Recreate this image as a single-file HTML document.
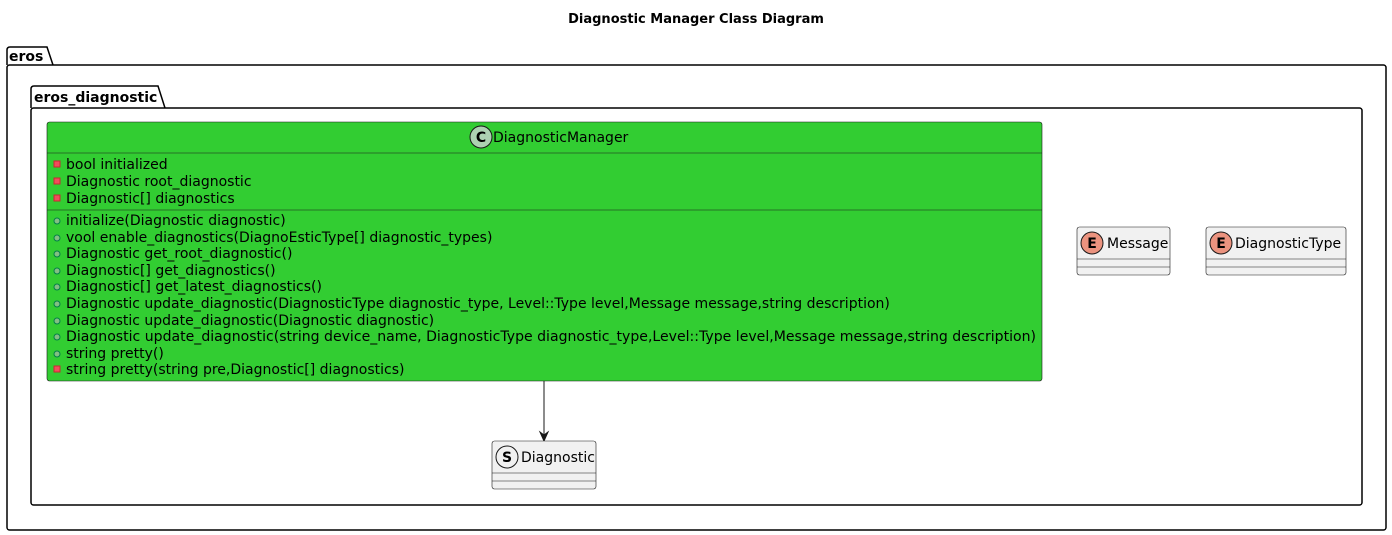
<!DOCTYPE html>
<html><head><meta charset="utf-8"><style>
html,body{margin:0;padding:0;background:#fff;}
svg{display:block;}
text{font-family:"DejaVu Sans","Liberation Sans",sans-serif;}
</style></head><body>
<svg width="1392" height="535" viewBox="0 0 1392 535" xmlns="http://www.w3.org/2000/svg">
<text x="696" y="23" text-anchor="middle" font-size="13" font-weight="bold">Diagnostic Manager Class Diagram</text>
<path d="M7,65 L7,50 Q7,47 10,47 L47,47 L53,65" fill="none" stroke="#000" stroke-width="1.5"/>
<rect x="7" y="65" width="1379" height="465" rx="2.5" fill="none" stroke="#000" stroke-width="1.5"/>
<text x="9" y="61" font-size="14" font-weight="bold">eros</text>
<path d="M31,108 L31,89 Q31,86 34,86 L158,86 L165,108" fill="none" stroke="#000" stroke-width="1.5"/>
<rect x="31" y="108" width="1331" height="397" rx="2.5" fill="none" stroke="#000" stroke-width="1.5"/>
<text x="34" y="102" font-size="14" font-weight="bold">eros_diagnostic</text>
<rect x="47" y="122" width="995" height="259" rx="2.5" fill="#32CD32" stroke="#181818" stroke-width="0.6"/>
<circle cx="481" cy="137" r="11" fill="#ADD1B2" stroke="#181818" stroke-width="1"/>
<text x="481" y="142" text-anchor="middle" font-size="14" font-weight="bold">C</text>
<text x="493" y="142" font-size="14">DiagnosticManager</text>
<line x1="47" y1="153" x2="1042" y2="153" stroke="#181818" stroke-width="0.6"/>
<g fill="#F24D5C" stroke="#C82930" stroke-width="1">
<rect x="54" y="161" width="6" height="6"/><rect x="54" y="178" width="6" height="6"/><rect x="54" y="195" width="6" height="6"/>
<rect x="54" y="366" width="6" height="6"/>
</g>
<g font-size="14">
<text x="66" y="169">bool initialized</text>
<text x="66" y="186">Diagnostic root_diagnostic</text>
<text x="66" y="203">Diagnostic[] diagnostics</text>
</g>
<line x1="47" y1="210" x2="1042" y2="210" stroke="#181818" stroke-width="0.6"/>
<g fill="#84BE84" stroke="#038048" stroke-width="1">
<circle cx="57" cy="221" r="3"/><circle cx="57" cy="238" r="3"/><circle cx="57" cy="254" r="3"/><circle cx="57" cy="271" r="3"/><circle cx="57" cy="287" r="3"/><circle cx="57" cy="304" r="3"/><circle cx="57" cy="321" r="3"/><circle cx="57" cy="337" r="3"/><circle cx="57" cy="354" r="3"/>
</g>
<g font-size="14">
<text x="66" y="225">initialize(Diagnostic diagnostic)</text>
<text x="66" y="242">vool enable_diagnostics(DiagnoEsticType[] diagnostic_types)</text>
<text x="66" y="258">Diagnostic get_root_diagnostic()</text>
<text x="66" y="275">Diagnostic[] get_diagnostics()</text>
<text x="66" y="291">Diagnostic[] get_latest_diagnostics()</text>
<text x="66" y="308">Diagnostic update_diagnostic(DiagnosticType diagnostic_type, Level::Type level,Message message,string description)</text>
<text x="66" y="325">Diagnostic update_diagnostic(Diagnostic diagnostic)</text>
<text x="66" y="341" textLength="970" lengthAdjust="spacingAndGlyphs">Diagnostic update_diagnostic(string device_name, DiagnosticType diagnostic_type,Level::Type level,Message message,string description)</text>
<text x="66" y="358">string pretty()</text>
<text x="66" y="374">string pretty(string pre,Diagnostic[] diagnostics)</text>
</g>
<line x1="544" y1="381" x2="544" y2="440" stroke="#181818" stroke-width="1"/>
<path d="M544,441 L540,432 L544,435 L548,432 Z" fill="#181818" stroke="#181818"/>
<rect x="492" y="441" width="104" height="48" rx="2.5" fill="#F1F1F1" stroke="#181818" stroke-width="0.6"/>
<circle cx="507" cy="457" r="11" fill="#F1F1F1" stroke="#181818" stroke-width="1"/>
<text x="507" y="462" text-anchor="middle" font-size="14" font-weight="bold">S</text>
<text x="521" y="462" font-size="14">Diagnostic</text>
<line x1="492" y1="473" x2="596" y2="473" stroke="#181818" stroke-width="0.6"/>
<line x1="492" y1="481" x2="596" y2="481" stroke="#181818" stroke-width="0.6"/>
<rect x="1077" y="227" width="93" height="48" rx="2.5" fill="#F1F1F1" stroke="#181818" stroke-width="0.6"/>
<circle cx="1092" cy="243" r="11" fill="#EB937F" stroke="#181818" stroke-width="1"/>
<text x="1092" y="248" text-anchor="middle" font-size="14" font-weight="bold">E</text>
<text x="1107" y="248" font-size="14">Message</text>
<line x1="1077" y1="259" x2="1170" y2="259" stroke="#181818" stroke-width="0.6"/>
<line x1="1077" y1="267" x2="1170" y2="267" stroke="#181818" stroke-width="0.6"/>
<rect x="1206" y="227" width="140" height="48" rx="2.5" fill="#F1F1F1" stroke="#181818" stroke-width="0.6"/>
<circle cx="1221" cy="243" r="11" fill="#EB937F" stroke="#181818" stroke-width="1"/>
<text x="1221" y="248" text-anchor="middle" font-size="14" font-weight="bold">E</text>
<text x="1235" y="248" font-size="14">DiagnosticType</text>
<line x1="1206" y1="259" x2="1346" y2="259" stroke="#181818" stroke-width="0.6"/>
<line x1="1206" y1="267" x2="1346" y2="267" stroke="#181818" stroke-width="0.6"/>
</svg>
</body></html>
